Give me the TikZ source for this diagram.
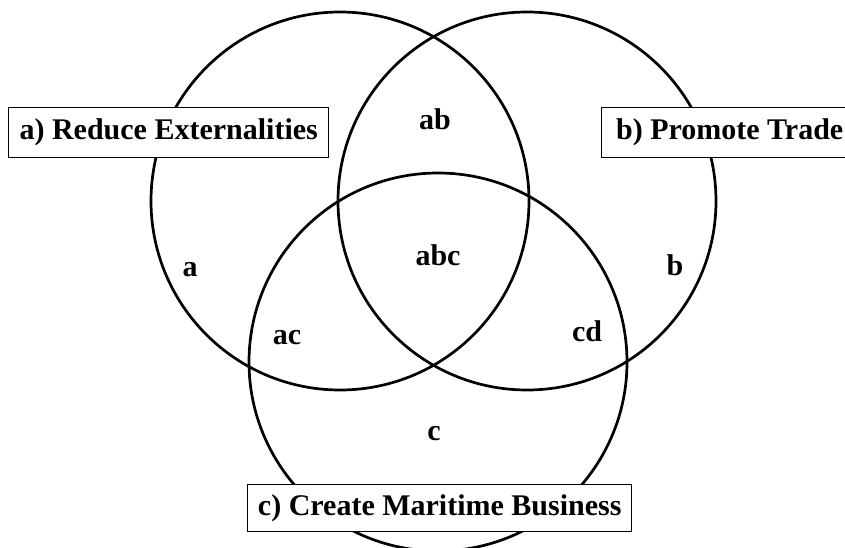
\documentclass[tikz,border=0pt]{standalone}
\usepackage{fontspec}
\setmainfont{Liberation Serif}
\begin{document}
\begin{tikzpicture}[x=1pt,y=-1pt,
  ring/.style={circle, draw=black, line width=2.7pt, inner sep=0pt, minimum size=#1},
  lbl/.style={font=\fontsize{30}{33}\selectfont\bfseries, inner sep=0pt},
  tag/.style={draw=black, line width=1.4pt, fill=white, font=\fontsize{30}{33}\selectfont\bfseries, inner sep=0pt, anchor=north west, minimum height=50pt}]
\useasboundingbox (0,0) rectangle (845,548);
\clip (0,0) rectangle (845,548);
\fill[white] (0,0) rectangle (845,548);
\node[ring=378pt] (A) at (340,201) {};
\node[ring=378pt] (B) at (527,201) {};
\node[ring=378pt] (C) at (438,362) {};
\node[tag, minimum width=320pt] (ta) at (8,107) {a) Reduce Externalities};
\node[tag, minimum width=256pt] (tb) at (601,107) {b) Promote Trade};
\node[tag, minimum width=384pt, minimum height=47pt] (tc) at (247,484) {c) Create Maritime Business};
\node[lbl] (lab) at (435,119) {ab};
\node[lbl] (labc) at (438,255) {abc};
\node[lbl] (la) at (190,270) {a};
\node[lbl] (lb) at (675,265) {b};
\node[lbl] (lac) at (287,338) {ac};
\node[lbl] (lcd) at (587,331) {cd};
\node[lbl] (lc) at (434,434) {c};
\end{tikzpicture}
\end{document}
